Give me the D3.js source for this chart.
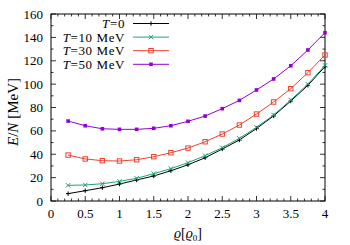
<!DOCTYPE html>
<html>
<head>
<meta charset="utf-8">
<script src="https://cdn.jsdelivr.net/npm/d3@7"></script>
<style>
  body { margin: 0; background: #fff; }
  text { font-family: "Liberation Serif", "DejaVu Serif", serif; fill: #000; }
</style>
</head>
<body>
<div id="chart"></div>
<script>
let width = 350, height = 245;
let margin = {left: 51, right: 25, top: 14, bottom: 44};

let rho = [0.25, 0.5, 0.75, 1, 1.25, 1.5, 1.75, 2, 2.25, 2.5, 2.75, 3, 3.25, 3.5, 3.75, 4];
let t0 = [6.3, 8.8, 11.4, 14.5, 18, 21.4, 25.9, 31, 37, 44.5, 52.2, 62, 72.8, 85.5, 99, 115];
let t10 = [13.4, 13.7, 14.8, 16.8, 19.4, 23.4, 27.7, 32.8, 38.8, 45.6, 53.6, 63, 73.6, 86.4, 100, 116];
let t30 = [39.3, 36, 34.5, 34.2, 35.3, 37.9, 41.3, 45.3, 50.7, 57.3, 65, 74.4, 84.7, 96.1, 109.8, 124.9];
let t50 = [68.4, 64.4, 61.8, 61.3, 61.3, 62.2, 64.4, 68.2, 72.7, 79, 86.1, 95, 104.4, 115.7, 129.2, 144];

let xTicks = [0, 0.5, 1, 1.5, 2, 2.5, 3, 3.5, 4];
let yTicks = [0, 20, 40, 60, 80, 100, 120, 140, 160];
let seriesNames = ['0', '10 MeV', '30 MeV', '50 MeV'];
let colors = ['#000000', '#1aa37a', '#f0412f', '#9400d3'];
let markers = ['plus', 'cross', 'square', 'filled'];

let series = [t0, t10, t30, t50].map((vals, i) => ({
    name: seriesNames[i], color: colors[i], marker: markers[i],
    values: vals.map((v, j) => [rho[j], v])
}));

let svg = d3.select('#chart').append('svg')
    .attr('width', width)
    .attr('height', height);

let x = d3.scaleLinear().domain([0, 4]).range([margin.left, width - margin.right]);
let y = d3.scaleLinear().domain([0, 160]).range([height - margin.bottom, margin.top]);

let x0 = x.range()[0], x1 = x.range()[1], y0 = y.range()[0], y1 = y.range()[1];

// ticks, pointing inward on all four sides
let ticks = svg.append('g').attr('stroke', '#000').attr('stroke-width', 0.8);
d3.range(0, 4.0001, 0.1).forEach(v => {
    let major = Math.abs(v * 2 - Math.round(v * 2)) < 1e-6;
    let len = major ? 5 : 2.5;
    ticks.append('line').attr('x1', x(v)).attr('x2', x(v)).attr('y1', y0).attr('y2', y0 - len);
    ticks.append('line').attr('x1', x(v)).attr('x2', x(v)).attr('y1', y1).attr('y2', y1 + len);
});
d3.range(0, 161, 10).forEach(v => {
    let len = v % 20 === 0 ? 5 : 2.5;
    ticks.append('line').attr('y1', y(v)).attr('y2', y(v)).attr('x1', x0).attr('x2', x0 + len);
    ticks.append('line').attr('y1', y(v)).attr('y2', y(v)).attr('x1', x1).attr('x2', x1 - len);
});

svg.append('rect')
    .attr('x', x0).attr('y', y1)
    .attr('width', x1 - x0).attr('height', y0 - y1)
    .attr('fill', 'none').attr('stroke', '#000').attr('stroke-width', 1);

// tick labels
svg.append('g').selectAll('text').data(xTicks).enter().append('text')
    .attr('x', d => x(d)).attr('y', 218)
    .attr('text-anchor', 'middle').attr('font-size', 13)
    .text(d => d);
svg.append('g').selectAll('text').data(yTicks).enter().append('text')
    .attr('x', 43).attr('y', d => y(d) + 4.5)
    .attr('text-anchor', 'end').attr('font-size', 13)
    .text(d => d);

// axis titles
let yl = svg.append('text')
    .attr('transform', 'translate(18,112) rotate(-90)')
    .attr('text-anchor', 'middle').attr('font-size', 15);
yl.append('tspan').attr('font-style', 'italic').text('E');
yl.append('tspan').text('/');
yl.append('tspan').attr('font-style', 'italic').text('N');
yl.append('tspan').text(' [MeV]');

let xl = svg.append('text')
    .attr('x', (x0 + x1) / 2).attr('y', 238)
    .attr('text-anchor', 'middle').attr('font-size', 14);
xl.append('tspan').attr('font-style', 'italic').text('ϱ');
xl.append('tspan').text('[');
xl.append('tspan').attr('font-style', 'italic').text('ϱ');
xl.append('tspan').attr('font-size', 9).attr('dy', 3).text('0');
xl.append('tspan').attr('dy', -3).text(']');

function drawMarker(g, type, color, px, py) {
    let s = 2.2;
    if (type === 'plus') {
        g.append('path').attr('d', `M${px - s},${py}H${px + s}M${px},${py - s}V${py + s}`)
            .attr('stroke', color).attr('stroke-width', 1);
    } else if (type === 'cross') {
        g.append('path').attr('d', `M${px - s},${py - s}L${px + s},${py + s}M${px - s},${py + s}L${px + s},${py - s}`)
            .attr('stroke', color).attr('stroke-width', 1);
    } else if (type === 'square') {
        g.append('rect').attr('x', px - s).attr('y', py - s).attr('width', 2 * s).attr('height', 2 * s)
            .attr('fill', 'none').attr('stroke', color).attr('stroke-width', 1);
    } else {
        g.append('rect').attr('x', px - 1.8).attr('y', py - 1.8).attr('width', 3.6).attr('height', 3.6)
            .attr('fill', color);
    }
}

let line = d3.line().x(d => x(d[0])).y(d => y(d[1]));

series.forEach(s => {
    let g = svg.append('g');
    g.append('path').datum(s.values)
        .attr('d', line)
        .attr('fill', 'none').attr('stroke', s.color).attr('stroke-width', 1);
    s.values.forEach(d => drawMarker(g, s.marker, s.color, x(d[0]), y(d[1])));
});

// legend
let legend = svg.append('g');
series.forEach((s, i) => {
    let ly = 23.5 + i * 13.6;
    let t = legend.append('text')
        .attr('x', 125).attr('y', ly + 4.5)
        .attr('text-anchor', 'end').attr('font-size', 13)
        .attr('letter-spacing', 0.6);
    t.append('tspan').attr('font-style', 'italic').text('T');
    t.append('tspan').text('=' + s.name);
    legend.append('line')
        .attr('x1', 133).attr('x2', 169).attr('y1', ly).attr('y2', ly)
        .attr('stroke', s.color).attr('stroke-width', 1);
    drawMarker(legend, s.marker, s.color, 151, ly);
});
</script>
</body>
</html>
